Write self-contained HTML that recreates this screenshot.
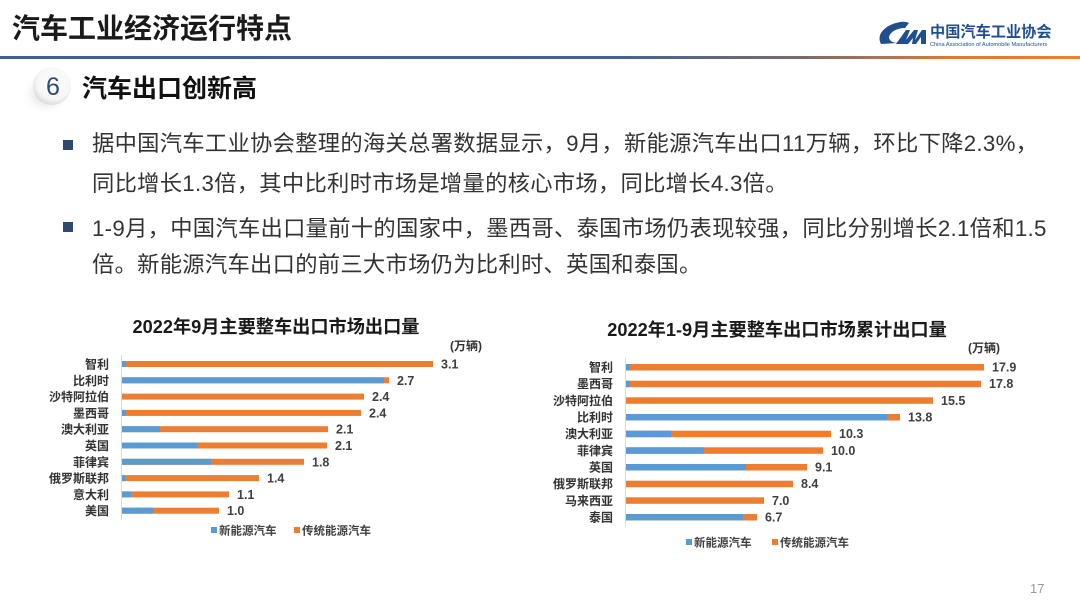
<!DOCTYPE html>
<html>
<head>
<meta charset="utf-8">
<style>
html,body{margin:0;padding:0;background:#fff;}
body{width:1080px;height:604px;overflow:hidden;}
svg text{font-family:"Liberation Sans","Noto Sans CJK SC",sans-serif;}
</style>
</head>
<body>
<svg width="1080" height="604" viewBox="0 0 1080 604" xmlns="http://www.w3.org/2000/svg">
<defs>
<linearGradient id="hl" x1="0" y1="0" x2="1080" y2="0" gradientUnits="userSpaceOnUse">
<stop offset="0" stop-color="#3d5f9a"/>
<stop offset="0.58" stop-color="#44639a"/>
<stop offset="0.74" stop-color="#7a6a6a"/>
<stop offset="0.88" stop-color="#d87a3c"/>
<stop offset="1" stop-color="#ee8033"/>
</linearGradient>
<radialGradient id="cg" cx="0.55" cy="0.4" r="0.6">
<stop offset="0" stop-color="#ffffff"/>
<stop offset="0.75" stop-color="#f6f6f6"/>
<stop offset="1" stop-color="#dcdcdc"/>
</radialGradient>
<radialGradient id="sh" cx="0.5" cy="0.5" r="0.5">
<stop offset="0" stop-color="#b8b8b8" stop-opacity="0.8"/>
<stop offset="1" stop-color="#ffffff" stop-opacity="0"/>
</radialGradient>
</defs>

<!-- header -->
<text x="12" y="38" font-size="28" font-weight="bold" fill="#1a1a1a">汽车工业经济运行特点</text>
<rect x="0" y="56" width="1080" height="3" fill="url(#hl)"/>

<!-- logo -->
<path d="M881 44 C876 35 884 25 900 22 C904 21.5 907 22 909 23 L905 28 C897 28 890 32 889 37 C889 41 893 43 898 43 Z" fill="#1f4f8f"/>
<path d="M896 44 L906 30 L910 30 L906 40 L914 30 L918 30 L915 40 L922 30 L926 30 L926 44 L921 44 L921 37 L916 44 L912 44 L913 38 L908 44 Z" fill="#1f4f8f"/>
<text x="930" y="37" font-size="15.2" font-weight="bold" fill="#1f4f8f">中国汽车工业协会</text>
<text x="930" y="46" font-size="5.6" fill="#1f4f8f">China Association of Automobile Manufacturers</text>

<!-- section -->
<ellipse cx="46" cy="94" rx="26" ry="22" fill="url(#sh)"/>
<circle cx="52" cy="86" r="19" fill="url(#cg)"/>
<text x="53" y="95" font-size="25" text-anchor="middle" fill="#2f4a7a">6</text>
<text x="82" y="97" font-size="25" font-weight="bold" fill="#111">汽车出口创新高</text>

<!-- bullets -->
<rect x="63" y="140" width="10" height="10" fill="#2f4a6e"/>
<rect x="63" y="222" width="10" height="10" fill="#2f4a6e"/>
<g font-size="22.3" fill="#333" letter-spacing="0.28">
<text x="92" y="151">据中国汽车工业协会整理的海关总署数据显示，9月，新能源汽车出口11万辆，环比下降2.3%，</text>
<text x="92" y="191">同比增长1.3倍，其中比利时市场是增量的核心市场，同比增长4.3倍。</text>
<text x="92" y="236">1-9月，中国汽车出口量前十的国家中，墨西哥、泰国市场仍表现较强，同比分别增长2.1倍和1.5</text>
<text x="92" y="272">倍。新能源汽车出口的前三大市场仍为比利时、英国和泰国。</text>
</g>

<!-- left chart -->
<text x="276" y="333" font-size="18.2" font-weight="bold" fill="#1a1a1a" text-anchor="middle">2022年9月主要整车出口市场出口量</text>
<text x="450" y="350" font-size="12" font-weight="bold" fill="#333">(万辆)</text>
<line x1="121.5" y1="355" x2="121.5" y2="520" stroke="#d9d9d9" stroke-width="1"/>
<g font-size="12" font-weight="bold" fill="#333" text-anchor="end">
<text x="109" y="368.5">智利</text>
<text x="109" y="384.8">比利时</text>
<text x="109" y="401.1">沙特阿拉伯</text>
<text x="109" y="417.4">墨西哥</text>
<text x="109" y="433.7">澳大利亚</text>
<text x="109" y="450">英国</text>
<text x="109" y="466.3">菲律宾</text>
<text x="109" y="482.6">俄罗斯联邦</text>
<text x="109" y="498.9">意大利</text>
<text x="109" y="515.2">美国</text>
</g>
<g fill="#ed7d31">
<rect x="122" y="361" width="311" height="6"/>
<rect x="122" y="377.3" width="267" height="6"/>
<rect x="122" y="393.6" width="242" height="6"/>
<rect x="122" y="409.9" width="239" height="6"/>
<rect x="122" y="426.2" width="206" height="6"/>
<rect x="122" y="442.5" width="205" height="6"/>
<rect x="122" y="458.8" width="182" height="6"/>
<rect x="122" y="475.1" width="137" height="6"/>
<rect x="122" y="491.4" width="107" height="6"/>
<rect x="122" y="507.7" width="97" height="6"/>
</g>
<g fill="#5b9bd5">
<rect x="122" y="361" width="4" height="6"/>
<rect x="122" y="377.3" width="262" height="6"/>
<rect x="122" y="409.9" width="4" height="6"/>
<rect x="122" y="426.2" width="38" height="6"/>
<rect x="122" y="442.5" width="75" height="6"/>
<rect x="122" y="458.8" width="89" height="6"/>
<rect x="122" y="475.1" width="3" height="6"/>
<rect x="122" y="491.4" width="9" height="6"/>
<rect x="122" y="507.7" width="31" height="6"/>
</g>
<g font-size="12.5" font-weight="bold" fill="#404040">
<text x="441" y="368.5">3.1</text>
<text x="397" y="384.8">2.7</text>
<text x="372" y="401.1">2.4</text>
<text x="369" y="417.4">2.4</text>
<text x="336" y="433.7">2.1</text>
<text x="335" y="450">2.1</text>
<text x="312" y="466.3">1.8</text>
<text x="267" y="482.6">1.4</text>
<text x="237" y="498.9">1.1</text>
<text x="227" y="515.2">1.0</text>
</g>
<rect x="211" y="527" width="6" height="6" fill="#5b9bd5"/>
<text x="219" y="534.5" font-size="11.5" font-weight="bold" fill="#404040">新能源汽车</text>
<rect x="294" y="527" width="6" height="6" fill="#ed7d31"/>
<text x="302" y="534.5" font-size="11.5" font-weight="bold" fill="#404040">传统能源汽车</text>

<!-- right chart -->
<text x="777" y="336" font-size="18.2" font-weight="bold" fill="#1a1a1a" text-anchor="middle">2022年1-9月主要整车出口市场累计出口量</text>
<text x="968" y="352" font-size="12" font-weight="bold" fill="#333">(万辆)</text>
<line x1="625.5" y1="358" x2="625.5" y2="527" stroke="#d9d9d9" stroke-width="1"/>
<g font-size="12" font-weight="bold" fill="#333" text-anchor="end">
<text x="613" y="371.5">智利</text>
<text x="613" y="388.2">墨西哥</text>
<text x="613" y="404.8">沙特阿拉伯</text>
<text x="613" y="421.5">比利时</text>
<text x="613" y="438.2">澳大利亚</text>
<text x="613" y="454.8">菲律宾</text>
<text x="613" y="471.5">英国</text>
<text x="613" y="488.2">俄罗斯联邦</text>
<text x="613" y="504.8">马来西亚</text>
<text x="613" y="521.5">泰国</text>
</g>
<g fill="#ed7d31">
<rect x="626" y="364" width="358" height="6.5"/>
<rect x="626" y="380.7" width="355" height="6.5"/>
<rect x="626" y="397.3" width="307" height="6.5"/>
<rect x="626" y="414" width="274" height="6.5"/>
<rect x="626" y="430.7" width="205" height="6.5"/>
<rect x="626" y="447.3" width="197" height="6.5"/>
<rect x="626" y="464" width="181" height="6.5"/>
<rect x="626" y="480.7" width="167" height="6.5"/>
<rect x="626" y="497.3" width="138" height="6.5"/>
<rect x="626" y="514" width="131" height="6.5"/>
</g>
<g fill="#5b9bd5">
<rect x="626" y="364" width="4" height="6.5"/>
<rect x="626" y="380.7" width="4" height="6.5"/>
<rect x="626" y="414" width="261" height="6.5"/>
<rect x="626" y="430.7" width="45" height="6.5"/>
<rect x="626" y="447.3" width="78" height="6.5"/>
<rect x="626" y="464" width="120" height="6.5"/>
<rect x="626" y="514" width="117" height="6.5"/>
</g>
<g font-size="12.5" font-weight="bold" fill="#404040">
<text x="992" y="371.5">17.9</text>
<text x="989" y="388.2">17.8</text>
<text x="941" y="404.8">15.5</text>
<text x="908" y="421.5">13.8</text>
<text x="839" y="438.2">10.3</text>
<text x="831" y="454.8">10.0</text>
<text x="815" y="471.5">9.1</text>
<text x="801" y="488.2">8.4</text>
<text x="772" y="504.8">7.0</text>
<text x="765" y="521.5">6.7</text>
</g>
<rect x="686" y="539" width="6" height="6" fill="#5b9bd5"/>
<text x="694" y="546.5" font-size="11.5" font-weight="bold" fill="#404040">新能源汽车</text>
<rect x="772" y="539" width="6" height="6" fill="#ed7d31"/>
<text x="780" y="546.5" font-size="11.5" font-weight="bold" fill="#404040">传统能源汽车</text>

<!-- page number -->
<text x="1030" y="593" font-size="13" fill="#9a9a9a">17</text>
</svg>
</body>
</html>
